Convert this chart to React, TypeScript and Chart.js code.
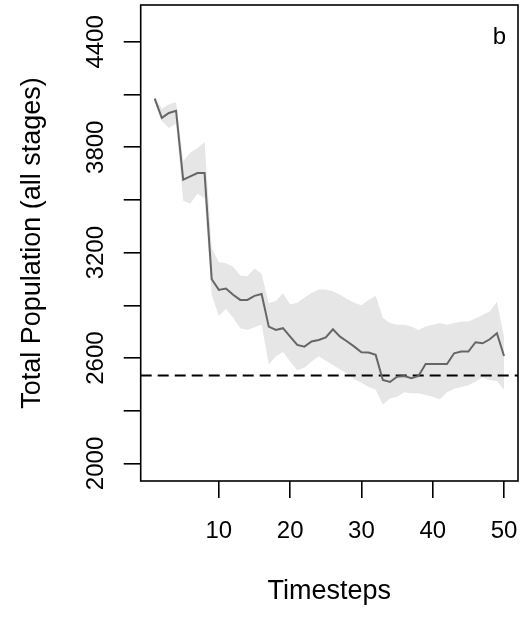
import React, { useEffect, useRef } from "react";
import { Chart, registerables } from "chart.js";

Chart.register(...registerables);

// Simulated total population (all stages) per timestep
const timesteps = [
  1, 2, 3, 4, 5, 6, 7, 8, 9, 10, 11, 12, 13, 14, 15, 16, 17, 18, 19, 20, 21, 22, 23, 24, 25,
  26, 27, 28, 29, 30, 31, 32, 33, 34, 35, 36, 37, 38, 39, 40, 41, 42, 43, 44, 45, 46, 47, 48, 49, 50,
];

const meanPopulation = [
  4077, 3967, 3995, 4008, 3615, 3634, 3653, 3653, 3049, 2988,
  2996, 2960, 2931, 2931, 2954, 2965, 2779, 2760, 2770, 2722,
  2675, 2665, 2694, 2703, 2718, 2764, 2722, 2694, 2665, 2633,
  2631, 2618, 2475, 2464, 2494, 2498, 2485, 2498, 2566, 2566,
  2566, 2566, 2627, 2637, 2637, 2690, 2684, 2707, 2741, 2612,
];

const upperBound = [
  4090, 4020, 4045, 4056, 3720, 3770, 3795, 3830, 3225, 3145,
  3140, 3120, 3070, 3065, 3110, 3080, 2912, 2925, 2969, 2905,
  2915, 2945, 2970, 2990, 2990, 2980, 2960, 2935, 2915, 2900,
  2930, 2955, 2830, 2800, 2790, 2790, 2780, 2760, 2780, 2790,
  2800, 2790, 2800, 2808, 2808, 2825, 2845, 2865, 2920, 2722,
];

const lowerBound = [
  4062, 3950, 3910, 3935, 3495, 3480, 3535, 3510, 2960, 2840,
  2880, 2830, 2770, 2760, 2775, 2790, 2565, 2610, 2635, 2580,
  2530, 2545, 2580, 2610, 2585, 2560, 2535, 2510, 2480, 2460,
  2435, 2420, 2335, 2370, 2380, 2405, 2400, 2400, 2390, 2380,
  2365, 2405, 2425, 2435, 2445, 2465, 2490, 2475, 2470, 2420,
];

const equilibrium = 2500;

const yTickValues = [2000, 2300, 2600, 2900, 3200, 3500, 3800, 4100, 4400];
const yLabelValues = [2000, 2600, 3200, 3800, 4400];
const xTickValues = [10, 20, 30, 40, 50];

const xMin = -0.96;
const xMax = 51.96;
const yMin = 1900;
const yMax = 4610;

const panelLabel = "b";
const fontFamily = "'Liberation Sans', Arial, Helvetica, sans-serif";

export default function App() {
  const canvasRef = useRef<HTMLCanvasElement>(null);

  useEffect(() => {
    const canvas = canvasRef.current;
    if (!canvas) return;

    const toPoints = (vals: number[]) => timesteps.map((t, i) => ({ x: t, y: vals[i] }));
    const tickFont = { family: fontFamily, size: 24 };
    const titleFont = { family: fontFamily, size: 27 };

    // Plot frame and panel letter
    const framePlugin = {
      id: "frame",
      afterDraw(chart: any) {
        const { ctx, chartArea: a } = chart;
        ctx.save();
        ctx.strokeStyle = "#000";
        ctx.lineWidth = 1.6;
        ctx.strokeRect(a.left, a.top, a.right - a.left, a.bottom - a.top);
        ctx.font = `24px ${fontFamily}`;
        ctx.fillStyle = "#000";
        ctx.textAlign = "right";
        ctx.textBaseline = "alphabetic";
        ctx.fillText(panelLabel, a.right - 12, a.top + 39);
        ctx.restore();
      },
    };

    const chart = new Chart(canvas, {
      type: "line",
      data: {
        datasets: [
          {
            label: "mean",
            data: toPoints(meanPopulation),
            borderColor: "#666666",
            borderWidth: 2,
            pointRadius: 0,
            fill: false,
            tension: 0,
          },
          {
            label: "equilibrium",
            data: [
              { x: xMin, y: equilibrium },
              { x: xMax, y: equilibrium },
            ],
            borderColor: "#000000",
            borderWidth: 2,
            borderDash: [11, 6],
            pointRadius: 0,
            fill: false,
          },
          {
            label: "upper",
            data: toPoints(upperBound),
            borderWidth: 0,
            borderColor: "rgba(0,0,0,0)",
            backgroundColor: "#e6e6e6",
            pointRadius: 0,
            fill: "+1",
            tension: 0,
          },
          {
            label: "lower",
            data: toPoints(lowerBound),
            borderWidth: 0,
            borderColor: "rgba(0,0,0,0)",
            pointRadius: 0,
            fill: false,
            tension: 0,
          },
        ],
      },
      options: {
        responsive: false,
        animation: false,
        devicePixelRatio: 1,
        layout: { padding: { left: 0, right: 6, top: 5, bottom: 0 } },
        plugins: {
          legend: { display: false },
          tooltip: { enabled: false },
        },
        scales: {
          x: {
            type: "linear",
            min: xMin,
            max: xMax,
            afterBuildTicks: (s: any) => {
              s.ticks = xTickValues.map((v) => ({ value: v }));
            },
            afterFit: (s: any) => {
              s.height = 136;
              s.paddingLeft = 0;
              s.paddingRight = 0;
            },
            grid: {
              drawOnChartArea: false,
              drawTicks: true,
              tickLength: 17,
              color: "#000",
              lineWidth: 1.6,
            },
            border: { display: false },
            ticks: {
              color: "#000",
              font: tickFont,
              padding: 19,
              autoSkip: false,
              maxRotation: 0,
              callback: (v: any) => String(v),
            },
            title: {
              display: true,
              text: "Timesteps",
              color: "#000",
              font: titleFont,
              padding: { top: 0, bottom: 9 },
            },
          },
          y: {
            type: "linear",
            min: yMin,
            max: yMax,
            afterBuildTicks: (s: any) => {
              s.ticks = yTickValues.map((v) => ({ value: v }));
            },
            afterFit: (s: any) => {
              s.width = 140.7;
              s.paddingTop = 0;
              s.paddingBottom = 0;
            },
            grid: {
              drawOnChartArea: false,
              drawTicks: true,
              tickLength: 17,
              color: "#000",
              lineWidth: 1.6,
            },
            border: { display: false },
            ticks: {
              color: "#000",
              font: tickFont,
              padding: 1,
              autoSkip: false,
              minRotation: 90,
              maxRotation: 90,
              crossAlign: "center",
              callback: (v: any) => (yLabelValues.includes(Number(v)) ? String(v) : ""),
            },
            title: {
              display: true,
              text: "Total Population (all stages)",
              color: "#000",
              font: titleFont,
              padding: { top: 16, bottom: 0 },
            },
          },
        },
      },
      plugins: [framePlugin],
    });

    return () => chart.destroy();
  }, []);

  return (
    <div
      style={{
        position: "fixed",
        left: 0,
        top: 0,
        width: 524,
        height: 617,
        background: "#fff",
      }}
    >
      <canvas ref={canvasRef} width={524} height={617} />
    </div>
  );
}
